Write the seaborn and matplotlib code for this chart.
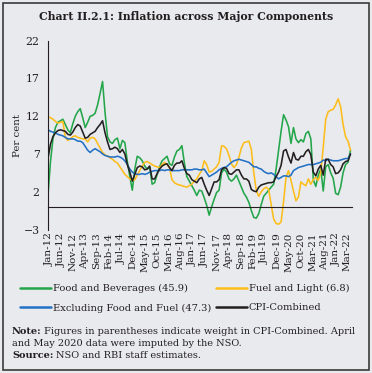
import numpy as np
import pandas as pd
import matplotlib
matplotlib.use("Agg")
import matplotlib.pyplot as plt
import seaborn as sns

# ---------------- data (monthly, Jan-2012 .. Mar-2022) ----------------
food_bev = [1.6, 6.0, 9.0, 10.5, 11.2, 11.4, 11.6, 10.9, 10.2, 9.8, 11.0, 12.0,
            12.6, 13.0, 11.8, 10.5, 11.2, 12.0, 12.1, 12.4, 13.5, 15.0, 16.6, 12.5,
            9.3, 8.6, 8.4, 8.9, 9.1, 7.7, 8.8, 8.5, 6.0, 4.0, 2.2, 5.0,
            6.7, 6.5, 6.1, 5.4, 5.0, 5.3, 3.0, 3.2, 4.3, 5.3, 6.1, 6.4,
            6.7, 5.7, 5.5, 6.6, 7.4, 7.6, 8.1, 5.8, 4.0, 3.4, 2.8, 2.2,
            1.5, 2.2, 2.1, 1.2, 0.2, -1.1, 0.0, 1.0, 1.9, 2.2, 4.5, 5.0,
            4.6, 3.7, 3.4, 3.7, 4.2, 3.4, 2.6, 1.8, 1.3, 0.6, -0.5, -1.4,
            -1.5, -0.9, 0.3, 1.4, 1.8, 2.2, 2.6, 3.0, 5.0, 7.5, 10.0, 12.2,
            11.5, 10.6, 8.4, 10.5, 9.0, 8.5, 8.9, 8.6, 9.7, 10.0, 9.0, 3.6,
            2.7, 4.2, 5.0, 2.1, 5.3, 5.6, 4.5, 3.8, 1.8, 1.6, 2.6, 4.5,
            5.6, 5.9, 7.5]
fuel_light = [11.9, 11.8, 11.6, 11.3, 11.1, 11.2, 11.3, 9.2, 8.8, 9.0, 9.3, 9.4,
              9.2, 9.1, 9.0, 9.0, 8.6, 9.1, 9.2, 9.0, 8.4, 7.8, 7.2, 6.9,
              6.7, 6.5, 6.3, 6.0, 5.8, 5.3, 4.8, 4.3, 4.0, 3.7, 3.5, 3.6,
              4.2, 4.8, 5.4, 5.9, 6.0, 5.8, 5.6, 5.4, 5.3, 5.2, 5.6, 5.9,
              5.6, 5.2, 3.6, 3.2, 3.0, 2.9, 2.8, 2.7, 2.6, 2.8, 3.0, 3.4,
              3.7, 4.3, 4.8, 6.1, 5.6, 4.6, 4.7, 5.0, 5.3, 5.9, 8.1, 8.0,
              7.7, 6.8, 5.7, 5.2, 5.6, 6.6, 7.8, 8.5, 8.6, 8.7, 7.6, 4.5,
              2.2, 1.4, 2.0, 2.4, 2.6, 2.3, 0.3, -1.6, -2.2, -2.3, -2.0, 0.7,
              3.9, 4.8, 3.5, 2.1, 0.8, 1.3, 3.3, 3.0, 2.8, 3.7, 3.0, 3.6,
              3.9, 3.5, 4.5, 7.9, 11.6, 12.6, 12.8, 12.9, 13.5, 14.3, 13.3, 10.9,
              9.3, 8.7, 7.5]
excl_food_fuel = [10.2, 10.0, 9.9, 9.8, 9.6, 9.5, 9.4, 9.2, 9.0, 9.0, 9.0, 8.9,
                  8.7, 8.7, 8.5, 8.0, 7.5, 7.2, 7.5, 7.7, 7.5, 7.3, 7.0, 6.8,
                  6.7, 6.6, 6.6, 6.6, 6.7, 6.6, 6.4, 6.1, 5.6, 5.0, 4.6, 4.4,
                  4.3, 4.3, 4.4, 4.3, 4.4, 4.6, 4.7, 4.8, 4.8, 4.8, 4.9, 4.8,
                  4.9, 4.9, 4.8, 4.8, 4.8, 4.8, 4.9, 4.9, 4.9, 4.9, 4.9, 5.0,
                  5.0, 4.9, 4.9, 5.0, 4.5, 4.0, 4.2, 4.4, 4.6, 4.9, 5.1, 5.2,
                  5.3, 5.6, 5.9, 6.1, 6.2, 6.3, 6.2, 6.1, 6.0, 5.9, 5.6, 5.3,
                  5.3, 5.1, 5.0, 4.7, 4.5, 4.4, 4.5, 4.3, 4.0, 3.7, 3.9, 4.1,
                  4.1, 4.0, 4.2, 4.8, 5.0, 5.2, 5.3, 5.4, 5.5, 5.6, 5.6, 5.6,
                  5.7, 5.8, 5.9, 6.2, 6.1, 6.3, 6.2, 6.1, 6.1, 6.1, 6.2, 6.3,
                  6.4, 6.4, 7.0]
cpi_combined = [6.4, 8.3, 9.3, 9.8, 10.1, 10.2, 10.1, 10.0, 9.6, 9.5, 9.9, 10.5,
                10.9, 10.7, 9.9, 9.1, 9.2, 9.6, 9.8, 10.0, 10.5, 10.9, 11.4, 9.8,
                8.6, 7.6, 7.7, 7.9, 7.7, 7.2, 7.6, 7.0, 5.6, 4.6, 3.4, 4.3,
                5.2, 5.4, 5.3, 4.9, 5.0, 5.4, 3.7, 3.7, 4.4, 5.0, 5.4, 5.6,
                5.7, 5.2, 4.8, 5.5, 5.8, 5.8, 6.1, 5.1, 4.4, 4.2, 3.6, 3.4,
                3.2, 3.7, 3.9, 3.0, 2.2, 1.5, 2.4, 3.3, 3.3, 3.6, 4.9, 5.2,
                5.1, 4.4, 4.3, 4.6, 4.9, 4.9, 4.2, 3.7, 3.7, 3.4, 2.3, 2.1,
                2.0, 2.6, 2.9, 3.0, 3.1, 3.2, 3.2, 3.3, 4.0, 4.6, 5.5, 7.4,
                7.6, 6.6, 5.8, 7.2, 6.3, 6.2, 6.7, 6.7, 7.3, 7.6, 6.9, 4.6,
                4.1, 5.0, 5.5, 4.2, 6.3, 6.3, 5.6, 5.3, 4.4, 4.5, 4.9, 5.7,
                6.0, 6.1, 7.0]

months = pd.date_range("2012-01-01", "2022-03-01", freq="MS")
month_labels = [d.strftime("%b-%y") for d in months]
tick_idx = list(range(0, 121, 5))
label_idx = tick_idx + [122]
tick_labels = [month_labels[i] for i in label_idx]

series_names = ["Food and Beverages (45.9)", "Fuel and Light (6.8)",
                "Excluding Food and Fuel (47.3)", "CPI-Combined"]
series_vals = [food_bev, fuel_light, excl_food_fuel, cpi_combined]
series_cols = ["#23a64a", "#fdbd1b", "#2371c4", "#231f20"]

rows = []
for name, vals in zip(series_names, series_vals):
    for i, v in enumerate(vals):
        rows.append({"idx": i, "value": v, "series": name})
df = pd.DataFrame(rows)

# ---------------- figure ----------------
sns.set_style("white")
plt.rcParams["font.family"] = ["DejaVu Serif"]
BG = "#e9eaee"
INK = "#231f20"
fig = plt.figure(figsize=(3.72, 3.73), dpi=100, facecolor=BG)
W, H = 372, 373

ax = fig.add_axes([48 / W, 1 - 229.5 / H, (351.5 - 48) / W, (229.5 - 40.7) / H])
ax.set_facecolor(BG)

for name, col in zip(series_names, series_cols):
    sns.lineplot(data=df[df["series"] == name], x="idx", y="value", ax=ax,
                 color=col, linewidth=1.15, label=name, legend=False)

ax.set_xlim(0, 122.4)
ax.set_ylim(-3, 22)
ax.set_yticks([-3, 2, 7, 12, 17, 22])
ax.tick_params(axis="y", labelsize=7.8, length=3, width=0.8, pad=3, colors=INK)
ax.set_ylabel("Per cent", fontsize=7.4, labelpad=1, color=INK)
ax.set_xlabel("")

for s in ["top", "right"]:
    ax.spines[s].set_visible(False)
ax.spines["left"].set_linewidth(0.8)
ax.spines["left"].set_color(INK)
ax.spines["bottom"].set_position(("data", 0))
ax.spines["bottom"].set_linewidth(0.8)
ax.spines["bottom"].set_color(INK)

# tick marks every 5 months on the zero line
ax.set_xticks(tick_idx)
ax.set_xticklabels([])
ax.tick_params(axis="x", which="major", length=4, width=0.8, colors=INK)
# labels: the source places them slightly compressed versus the ticks
label_pos = [0.4 + 0.9665 * i for i in tick_idx] + [120.6]
ax.set_xticks(label_pos, minor=True)
ax.set_xticklabels(tick_labels, minor=True, rotation=90, fontsize=7.5, color=INK)
ax.tick_params(axis="x", which="minor", length=0, pad=18.5, colors=INK)

# title
fig.text(0.5, 1 - 17 / H, "Chart II.2.1: Inflation across Major Components",
         ha="center", va="center", fontsize=7.8, fontweight="bold", color=INK)

# legend
handles, labels = ax.get_legend_handles_labels()
order = [0, 2, 1, 3]
leg = fig.legend([handles[i] for i in order], [labels[i] for i in order],
                 ncol=2, loc="upper left", bbox_to_anchor=(20 / W, 1 - 284 / H),
                 frameon=False, fontsize=7.1, handlelength=3.1, handletextpad=0.2,
                 columnspacing=0.55, labelspacing=1.05, borderaxespad=0, borderpad=0,
                 labelcolor=INK)
for h in leg.get_lines():
    h.set_linewidth(1.8)

# notes
renderer = fig.canvas.get_renderer()
NFS = 7.0
def bold_then_plain(x_px, y_px, bold, plain):
    t = fig.text(x_px / W, 1 - y_px / H, bold, fontsize=NFS, fontweight="bold",
                 ha="left", va="center", color=INK)
    bb = t.get_window_extent(renderer=renderer)
    fig.text(bb.x1 / W + 2.5 / W, 1 - y_px / H, plain, fontsize=NFS,
             ha="left", va="center", color=INK)

bold_then_plain(12, 331, "Note:", "Figures in parentheses indicate weight in CPI-Combined. April")
fig.text(12 / W, 1 - 343.5 / H, "and May 2020 data were imputed by the NSO.", fontsize=NFS,
         ha="left", va="center", color=INK)
bold_then_plain(12, 356, "Source:", "NSO and RBI staff estimates.")

# border
fig.patches.append(matplotlib.patches.Rectangle((2.5 / W, 3 / H), (369 - 2.5) / W, (370.5 - 3) / H,
                                                transform=fig.transFigure, fill=False,
                                                edgecolor="#3a3a3a", linewidth=1.2))

fig.savefig("out.png", dpi=100, facecolor=BG)
